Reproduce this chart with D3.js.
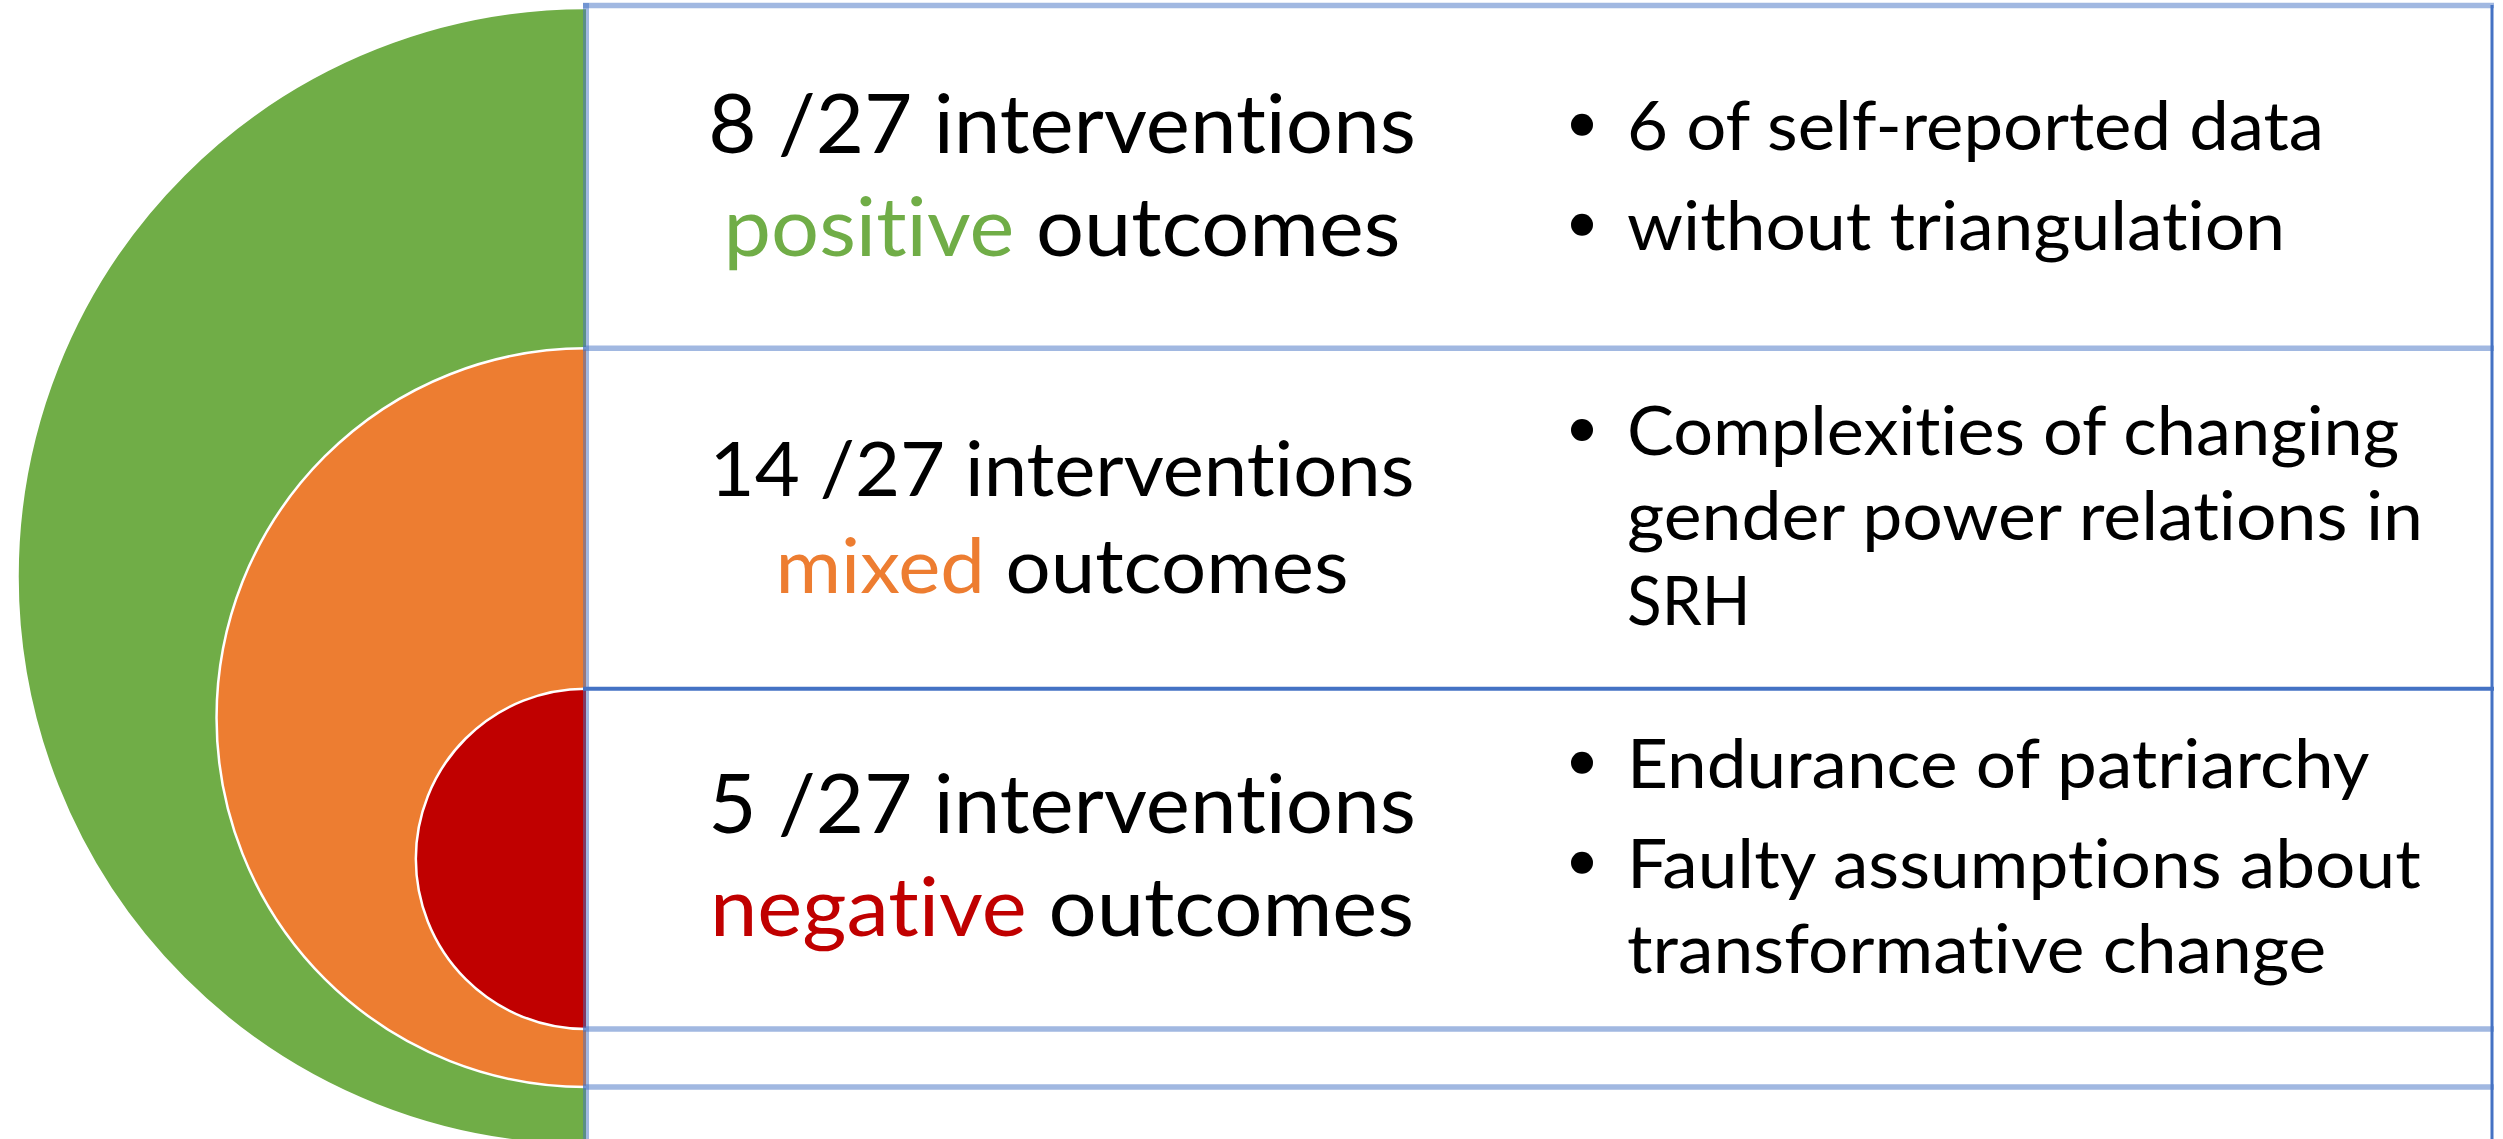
<!DOCTYPE html>
<html>
<head>
<meta charset="utf-8">
<script src="https://cdn.jsdelivr.net/npm/d3@7"></script>
<style>
  body { margin: 0; background: #fff; }
  svg { display: block; }
  text { font-family: Lato, "Open Sans", sans-serif; font-variant-ligatures: none; }
</style>
</head>
<body>
<div id="chart"></div>
<script>
// outcome groups, outer ring first
const outcomeLabels = ["positive", "mixed", "negative"];
const interventionCounts = [8, 14, 5];
const totalInterventions = 27;
const outcomeColors = ["#70AD47", "#ED7D31", "#C00000"];

// key findings for each group: bullets, each bullet already wrapped into lines
const findings = [
    [["6 of self-reported data"], ["without triangulation"]],
    [["Complexities of changing", "gender power relations in", "SRH"]],
    [["Endurance of patriarchy"], ["Faulty assumptions about", "transformative change"]]
];

const width = 2503, height = 1139;

let svg = d3.select("#chart").append("svg")
    .attr("width", width)
    .attr("height", height);

// rows of the table
let y = d3.scaleLinear()
    .domain([0, outcomeLabels.length])
    .range([8, 1029]);
let ringGap = 58;

// columns of the table
let x = d3.scaleLinear()
    .domain([0, 1, 2])
    .range([586, 1538, 2492]);
let cx = x(0);

// nested half discs, one per outcome group
let rings = outcomeLabels.map((label, i) => {
    let top = y(i);
    let bottom = y(outcomeLabels.length) + (outcomeLabels.length - 1 - i) * ringGap;
    return {label: label, color: outcomeColors[i], cy: (top + bottom) / 2, r: (bottom - top) / 2};
});

let discs = svg.append("g").attr("class", "discs");

rings.forEach(d => {
    discs.append("path")
        .attr("d", d3.arc().innerRadius(0).outerRadius(d.r).startAngle(Math.PI).endAngle(2 * Math.PI)())
        .attr("transform", `translate(${cx},${d.cy})`)
        .attr("fill", d.color);

    let p = d3.path();
    p.moveTo(cx, d.cy - d.r);
    p.arc(cx, d.cy, d.r, -Math.PI / 2, Math.PI / 2, true);
    discs.append("path")
        .attr("d", p.toString())
        .attr("fill", "none")
        .attr("stroke", "#fff")
        .attr("stroke-width", 2.5);
});

// table grid
let grid = svg.append("g").attr("class", "grid");
let rowLines = d3.range(outcomeLabels.length + 1).map(i => y(i)).concat([y(outcomeLabels.length) + ringGap]);

grid.selectAll("line.row")
    .data(rowLines)
    .enter().append("line")
    .attr("class", "row")
    .attr("x1", cx - 3)
    .attr("x2", x(2) + 2)
    .attr("y1", d => d === y(0) ? d - 2.5 : d)
    .attr("y2", d => d === y(0) ? d - 2.5 : d)
    .attr("stroke", "#4472C4")
    .attr("stroke-opacity", (d, i) => i === 2 ? 1 : 0.5)
    .attr("stroke-width", (d, i) => i === 2 ? 4 : 5.5);

grid.append("line")
    .attr("x1", cx).attr("x2", cx)
    .attr("y1", 3).attr("y2", height)
    .attr("stroke", "#4472C4")
    .attr("stroke-opacity", 0.5)
    .attr("stroke-width", 6);

grid.append("line")
    .attr("x1", x(2)).attr("x2", x(2))
    .attr("y1", 5).attr("y2", height)
    .attr("stroke", "#4472C4")
    .attr("stroke-width", 3);

// Calibri advance widths (per 2048 em) so Lato lines can be squeezed to the original widths
const calibriAdv = {
    " ": 463, "-": 627, "/": 791,
    "0": 1038, "1": 1038, "2": 1038, "3": 1038, "4": 1038, "5": 1038, "6": 1038, "7": 1038, "8": 1038, "9": 1038,
    a: 981, b: 1076, c: 866, d: 1076, e: 1019, f: 625, g: 964, h: 1076, i: 470, j: 490, k: 931, l: 470, m: 1636,
    n: 1076, o: 1080, p: 1076, q: 1076, r: 714, s: 801, t: 686, u: 1076, v: 925, w: 1464, x: 887, y: 927, z: 809,
    C: 1092, E: 1000, F: 941, H: 1276, R: 1112, S: 941
};
function calibriWidth(str, size) {
    return d3.sum(Array.from(str), c => calibriAdv[c] || 1000) / 2048 * size;
}
// Lato cap height is taller than Calibri's, so use a smaller Lato size
let latoRatio = 0.899;

function placeText(t, str, tx, ty, size) {
    t.attr("font-size", size * latoRatio)
        .attr("transform", `translate(${tx},${ty})`);
    let sx = calibriWidth(str, size) / t.node().getComputedTextLength();
    t.attr("transform", `translate(${tx},${ty}) scale(${sx},1)`);
}

// left column: counts and outcome
let labels = svg.append("g").attr("class", "labels");
let textX = (x(0) + x(1)) / 2;
let bigSize = 91;
let rowFit = [1, 0.935, 1]; // the middle cell text was shrunk to fit

outcomeLabels.forEach((label, i) => {
    let size = bigSize * rowFit[i];
    let gap = 103 * rowFit[i] / 2;
    let rowMid = (y(i) + y(i + 1)) / 2 + 26;

    let str1 = `${interventionCounts[i]} /${totalInterventions} interventions`;
    let line1 = labels.append("text")
        .attr("text-anchor", "middle")
        .attr("fill", "#000")
        .text(str1);
    placeText(line1, str1, textX, rowMid - gap, size);

    let line2 = labels.append("text")
        .attr("text-anchor", "middle")
        .attr("fill", "#000");
    line2.append("tspan").attr("fill", outcomeColors[i]).text(label);
    line2.append("tspan").text(" outcomes");
    placeText(line2, label + " outcomes", textX, rowMid + gap, size);
});

// right column: bullet lists
let notes = svg.append("g").attr("class", "notes");
let smallSize = 76, lineH = 85, bulletGap = 15;

findings.forEach((bullets, i) => {
    let rows = [];
    let off = 0;
    bullets.forEach(lines => {
        lines.forEach((t, li) => {
            if (rows.length > 0) off += lineH + (li === 0 ? bulletGap : 0);
            rows.push({text: t, off: off, first: li === 0});
        });
    });
    let base = (y(i) + y(i + 1)) / 2 - off / 2 + 21.5;

    rows.forEach(r => {
        if (r.first) {
            notes.append("circle")
                .attr("cx", x(1) + 44)
                .attr("cy", base + r.off - 25)
                .attr("r", 11)
                .attr("fill", "#000");
        }
        let t = notes.append("text")
            .attr("fill", "#000")
            .text(r.text);
        placeText(t, r.text, x(1) + 89, base + r.off, smallSize);
    });
});
</script>
</body>
</html>
